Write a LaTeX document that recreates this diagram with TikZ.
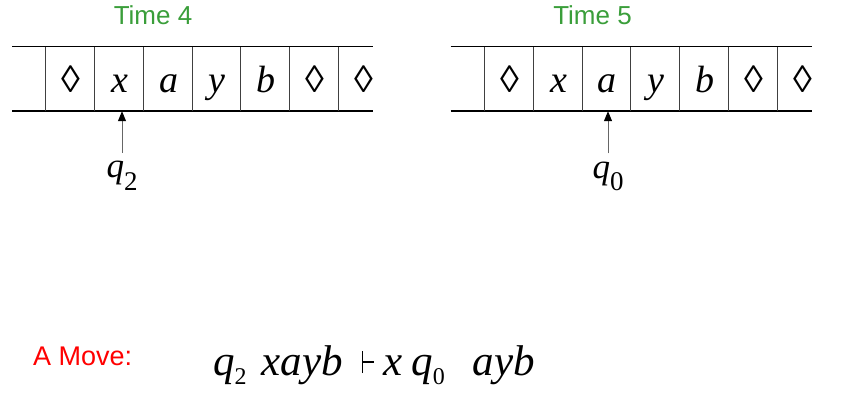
\documentclass[tikz,border=0pt]{standalone}
\usepackage{fontspec}
\usepackage{amsmath,amssymb}
\setmainfont{Liberation Serif}
\newfontfamily\arialfont{Liberation Sans}
\usetikzlibrary{positioning, arrows.meta}
\definecolor{timegreen}{RGB}{58,158,58}
\definecolor{movered}{RGB}{255,0,0}
\newcommand{\tapeblank}{{\upshape ◊}}
\newcommand{\qlow}[3]{\textit{q}\raisebox{-#3}{\fontsize{#2}{#2}\selectfont #1}}
\newcommand{\yields}{\rule[2pt]{1.5pt}{22pt}\rule[12.5pt]{11pt}{1.3pt}}
\tikzset{
  cell/.style={minimum width=49pt, minimum height=64pt, inner sep=0pt,
    text height=34pt, text depth=6pt, font=\fontsize{38}{38}\selectfont\itshape},
  tape/.style={line width=1pt, black},
  sep/.style={line width=1pt, black!75},
  ptr/.style={line width=1pt, black!60, -{Triangle[length=10pt,width=8pt,color=black]}},
  qlbl/.style={anchor=base, inner xsep=0pt, inner ysep=8pt, font=\fontsize{35}{35}\selectfont},
  timelbl/.style={anchor=base, inner sep=0pt, timegreen, font=\arialfont\fontsize{26}{26}\selectfont}
}
\begin{document}
\begin{tikzpicture}[x=1pt, y=-1pt]
      \useasboundingbox (0,0) rectangle (850,417);
      \node[timelbl] (t4) at (153,25) {Time 4};
      \node[timelbl] (t5) at (592.5,25) {Time 5};
      \draw[tape] (12,47) -- (373,47);
      \draw[tape] (12,111) -- (373,111);
      \draw[tape] (450.7,47) -- (812,47);
      \draw[tape] (450.7,111) -- (812,111);
      \node[cell] (l1) at (70.5,79) {\tapeblank};
      \node[cell] (l2) at (119.5,79) {x};
      \node[cell] (l3) at (168.5,79) {a};
      \node[cell] (l4) at (217,79) {y};
      \node[cell] (l5) at (265.5,79) {b};
      \node[cell] (l6) at (314.5,79) {\tapeblank};
      \node[cell] (l7) at (363.5,79) {\tapeblank};
      \node[cell] (r1) at (509.5,79) {\tapeblank};
      \node[cell] (r2) at (558.5,79) {x};
      \node[cell] (r3) at (607,79) {a};
      \node[cell] (r4) at (655.5,79) {y};
      \node[cell] (r5) at (704.5,79) {b};
      \node[cell] (r6) at (753.5,79) {\tapeblank};
      \node[cell] (r7) at (802.5,79) {\tapeblank};
      \draw[sep] (l1.north west) -- (l1.south west);
      \draw[sep] (l2.north west) -- (l2.south west);
      \draw[sep] (l3.north west) -- (l3.south west);
      \draw[sep] (l4.north west) -- (l4.south west);
      \draw[sep] (l5.north west) -- (l5.south west);
      \draw[sep] (l6.north west) -- (l6.south west);
      \draw[sep] (l7.north west) -- (l7.south west);
      \draw[sep] (r1.north west) -- (r1.south west);
      \draw[sep] (r2.north west) -- (r2.south west);
      \draw[sep] (r3.north west) -- (r3.south west);
      \draw[sep] (r4.north west) -- (r4.south west);
      \draw[sep] (r5.north west) -- (r5.south west);
      \draw[sep] (r6.north west) -- (r6.south west);
      \draw[sep] (r7.north west) -- (r7.south west);
      \node[qlbl] (q2) at (122,177.5) {\qlow{2}{27}{12.5pt}};
      \node[qlbl] (q0) at (608,178) {\qlow{0}{27}{12.5pt}};
      \draw[ptr] (q2.north) -- (q2.north |- l2.south);
      \draw[ptr] (q0.north) -- (q0.north |- r3.south);
      \node[anchor=base west, inner sep=0pt, movered, font=\arialfont\fontsize{27}{27}\selectfont] (lbl) at (33,365) {A Move:};
      \node[anchor=base west, inner sep=0pt, font=\fontsize{43}{43}\selectfont] (move) at (213,375)
        {\qlow{2}{24}{9pt}\hspace{15pt}\textit{xayb}\hspace{19pt}\yields\hspace{9pt}\textit{x}\hspace{9pt}\qlow{0}{24}{9pt}\hspace{28pt}\textit{ayb}};
\end{tikzpicture}
\end{document}
